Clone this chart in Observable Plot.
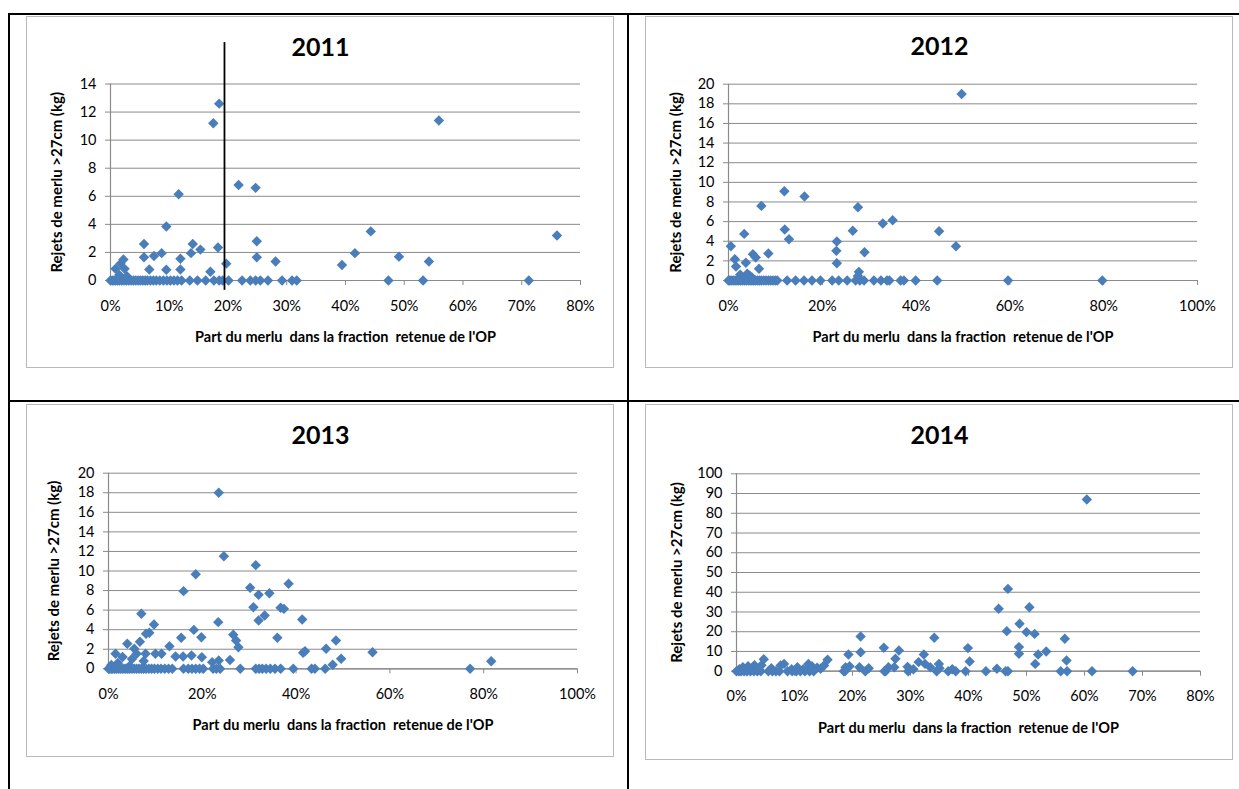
<!DOCTYPE html>
<html><head><meta charset="utf-8">
<script src="https://cdn.jsdelivr.net/npm/d3@7"></script>
<script src="https://cdn.jsdelivr.net/npm/@observablehq/plot@0.6"></script>
<style>
body{margin:0;background:#fff;width:1239px;height:789px;overflow:hidden;position:relative;font-family:Lato,sans-serif}
.line{position:absolute;background:#000}
.frame{position:absolute;border:1.5px solid #b9b9b9;box-sizing:border-box;background:#fff}
.chart{position:absolute}
</style></head><body>
<div class="line" style="left:8px;top:13px;width:1231px;height:2px"></div>
<div class="line" style="left:8px;top:13px;width:2px;height:776px"></div>
<div class="line" style="left:627px;top:13px;width:2px;height:776px"></div>
<div class="line" style="left:8px;top:400px;width:1231px;height:2px"></div>
<script>
// ---------- DATA (x = % share, y = kg) ----------
const xLabel = "Part du merlu  dans la fraction  retenue de l'OP";
const yLabel = "Rejets de merlu >27cm (kg)";

const x2011 = [18.5,17.5,55.9,21.8,24.7,11.6,9.5,44.3,76.0,24.9,5.7,14.0,18.3,15.3,13.7,8.7,41.6,7.4,5.7,24.9,49.1,11.9,2.2,28.1,54.2,1.7,19.7,39.4,0.85,2.4,6.6,9.5,11.9,17.0,1.5,2.8,
  0,0.3,0.6,0.9,1.2,1.5,1.9,2.3,2.7,3.1,3.5,3.9,4.3,4.7,5.1,5.5,5.9,6.3,6.8,7.3,7.8,8.4,9,9.6,10.2,10.8,11.4,12.1,13.5,14.8,16.2,17.6,18.5,19.1,20.1,22.4,23.8,24.7,25.5,26.8,29.2,30.9,31.7,47.3,53.2,71.2];
const y2011 = [12.6,11.2,11.4,6.8,6.6,6.15,3.85,3.5,3.2,2.8,2.6,2.6,2.35,2.2,1.95,1.95,1.95,1.75,1.65,1.65,1.7,1.55,1.5,1.35,1.35,1.2,1.2,1.1,0.83,0.83,0.78,0.76,0.78,0.62,0.4,0.3,
  0,0,0,0,0,0,0,0,0,0,0,0,0,0,0,0,0,0,0,0,0,0,0,0,0,0,0,0,0,0,0,0,0,0,0,0,0,0,0,0,0,0,0,0,0,0];
const vline2011 = {x: 19.4, top: 16.95, bottom: -0.7};

const x2012 = [49.7,11.9,16.2,7.0,27.6,35.0,32.9,44.9,12.0,26.5,3.35,12.9,23.1,0.5,48.5,23.0,29.0,8.5,5.2,5.8,1.35,3.7,23.1,1.6,6.5,4.0,27.8,27.6,2.5,4.5,5.0,
  0,0.3,0.6,1,1.4,1.8,2.2,2.6,3,3.4,3.8,4.2,4.6,5,5.4,5.8,6.2,6.6,7,7.5,8,8.5,9,9.5,10,10.4,12.5,14.3,16.1,17.8,19.6,22.1,23.5,25.3,27.1,28,28.9,31,32.5,33.8,34.3,36.7,37.4,39.9,44.5,59.6,79.7];
const y2012 = [19.0,9.1,8.55,7.6,7.47,6.14,5.8,5.02,5.19,5.06,4.75,4.2,3.97,3.49,3.49,3.02,2.88,2.75,2.68,2.35,2.17,1.8,1.76,1.43,1.19,0.68,0.88,0.45,0.6,0.5,0.3,
  0,0,0,0,0,0,0,0,0,0,0,0,0,0,0,0,0,0,0,0,0,0,0,0,0,0,0,0,0,0,0,0,0,0,0,0,0,0,0,0,0,0,0,0,0,0,0];

const x2013 = [23.5,24.6,31.4,18.6,38.4,30.2,16.0,34.3,32.0,30.9,36.7,37.4,7.0,33.3,41.3,32.0,23.4,9.7,18.2,8.7,8.0,26.6,19.8,15.5,36.0,27.2,48.5,6.7,4.0,13.0,27.7,46.4,5.5,41.9,41.5,56.3,1.5,6.0,7.9,10.0,11.3,17.7,14.3,15.9,19.9,49.6,25.9,23.5,22.1,81.6,47.8,3.0,5.0,7.5,2.0,0.6,4.5,
  0,0.3,0.6,0.9,1.3,1.7,2.1,2.5,2.9,3.3,3.7,4.1,4.5,5,5.5,6,6.5,7,7.5,8,8.6,9.2,9.8,10.5,11.2,12,12.8,13.6,16,17,17.8,18.6,19.4,20.2,22.3,23,23.8,28.1,31.4,32.1,32.8,33.6,34.5,35.5,36.7,39.4,43.3,44,46.2,77.1];
const y2013 = [18.0,11.5,10.6,9.67,8.7,8.28,7.94,7.73,7.57,6.3,6.24,6.13,5.62,5.45,5.04,4.94,4.77,4.53,3.98,3.68,3.58,3.48,3.23,3.17,3.17,2.9,2.9,2.76,2.56,2.31,2.2,2.05,2.05,1.8,1.65,1.7,1.53,1.53,1.53,1.53,1.53,1.36,1.26,1.26,1.19,1.02,0.9,0.85,0.68,0.78,0.41,1.2,1.0,0.8,0.6,0.4,0.3,
  0,0,0,0,0,0,0,0,0,0,0,0,0,0,0,0,0,0,0,0,0,0,0,0,0,0,0,0,0,0,0,0,0,0,0,0,0,0,0,0,0,0,0,0,0,0,0,0,0,0];

const x2014 = [60.4,46.8,45.2,50.5,48.8,46.6,50.0,51.4,56.6,48.7,48.7,53.4,52.0,51.5,56.9,39.9,40.2,44.9,21.4,21.4,19.3,25.4,28.0,27.4,34.1,32.3,31.4,4.7,15.7,15.1,8.2,7.6,12.4,12.4,13.9,29.5,34.9,32.5,33.4,26.2,27.2,22.8,21.2,18.8,19.5,1.1,3.1,4.3,2.0,6.0,9.5,10.5,11.5,13.0,14.5,35.0,0.5,2.5,30.5,37.2,
  0,0.4,0.8,1.3,1.8,2.4,3,3.6,4.2,5.5,6.2,6.8,7.4,8.8,9.6,10.3,11,11.8,12.6,13.3,18.5,18.7,22.2,25.5,25.7,29.6,34.5,36.5,37.8,39.5,43.0,46.4,46.8,55.9,57.0,61.3,68.3];
const y2014 = [87.0,41.7,31.6,32.4,24.0,20.3,19.8,18.9,16.4,12.2,8.8,10.0,8.5,3.7,5.4,11.7,4.9,1.2,17.6,9.6,8.5,11.9,10.5,6.3,16.9,8.5,4.6,6.1,5.8,2.9,3.7,2.9,3.7,2.0,1.8,2.2,3.7,3.7,2.0,2.0,2.0,1.5,2.0,2.0,2.5,2.0,3.0,3.0,2.5,1.5,1.0,2.0,1.0,2.5,1.2,1.5,1.0,1.2,1.0,1.0,
  0,0,0,0,0,0,0,0,0,0,0,0,0,0,0,0,0,0,0,0,0,0,0,0,0,0,0,0,0,0,0,0,0,0,0,0,0];

const xTicks2011 = [0,10,20,30,40,50,60,70,80];
const yTicks2011 = [0,2,4,6,8,10,12,14];
const xTicks2012 = [0,20,40,60,80,100];
const yTicks2012 = [0,2,4,6,8,10,12,14,16,18,20];
const xTicks2013 = [0,20,40,60,80,100];
const yTicks2013 = [0,2,4,6,8,10,12,14,16,18,20];
const xTicks2014 = [0,10,20,30,40,50,60,70,80];
const yTicks2014 = [0,10,20,30,40,50,60,70,80,90,100];

// ---------- LAYOUT ----------
const panels = [
  {title:"2011", xs:x2011, ys:y2011, xt:xTicks2011, yt:yTicks2011, vline:vline2011,
   frame:{l:26,t:16,w:588,h:352}, plot:{x0:110,x1:580,y0:83.5,y1:280}, titleY:47, yLabX:57},
  {title:"2012", xs:x2012, ys:y2012, xt:xTicks2012, yt:yTicks2012,
   frame:{l:645,t:16,w:588,h:352}, plot:{x0:728,x1:1197,y0:83.7,y1:280}, titleY:47, yLabX:676},
  {title:"2013", xs:x2013, ys:y2013, xt:xTicks2013, yt:yTicks2013,
   frame:{l:26,t:404,w:588,h:353}, plot:{x0:108,x1:577,y0:472.7,y1:668.3}, titleY:435, yLabX:54},
  {title:"2014", xs:x2014, ys:y2014, xt:xTicks2014, yt:yTicks2014,
   frame:{l:645,t:404,w:588,h:356}, plot:{x0:736,x1:1200,y0:473.3,y1:670.7}, titleY:435, yLabX:677},
];

const grid = "#8a8a8a";
const blue = "#4A7EBB";

for (const p of panels) {
  const f = p.frame, q = p.plot;
  const fr = document.createElement("div");
  fr.className = "frame";
  Object.assign(fr.style, {left:f.l+"px", top:f.t+"px", width:f.w+"px", height:f.h+"px"});
  document.body.appendChild(fr);

  const data = p.xs.map((x,i)=>({x, y:p.ys[i]}));
  const xDom = [p.xt[0], p.xt[p.xt.length-1]];
  const yDom = [p.yt[0], p.yt[p.yt.length-1]];
  const plotCx = (q.x0+q.x1)/2, frameCx = f.l + f.w/2;
  const marks = [
    Plot.gridY(p.yt, {stroke:grid, strokeOpacity:1, strokeWidth:1}),
    Plot.ruleX([xDom[0]], {stroke:grid, strokeWidth:1.2}),
    Plot.ruleY([0], {stroke:grid, strokeWidth:1.2}),
    Plot.axisY(p.yt, {tickSize:5, tickPadding:9, stroke:grid, label:null, fontSize:14.5}),
    Plot.axisX(p.xt, {tickSize:5, tickPadding:15, stroke:grid, label:null, fontSize:14.5, tickFormat:d=>d+"%"}),
    Plot.dot(data, {x:"x", y:"y", symbol:"diamond2", r:4.7, fill:blue, stroke:"none"}),
    Plot.text([p.title], {frameAnchor:"top", textAnchor:"middle", lineAnchor:"middle", dx:frameCx-plotCx, dy:p.titleY-q.y0, fontSize:25, fontWeight:"bold"}),
    Plot.text([xLabel], {frameAnchor:"bottom", textAnchor:"middle", lineAnchor:"middle", dy:57, fontSize:14.5, fontWeight:"bold"}),
    Plot.text([yLabel], {frameAnchor:"left", textAnchor:"middle", lineAnchor:"middle", dx:p.yLabX-q.x0, rotate:-90, fontSize:15, fontWeight:"bold"}),
  ];
  if (p.vline) marks.push(Plot.ruleX([p.vline.x], {y1:p.vline.top, y2:p.vline.bottom, stroke:"#000", strokeWidth:1.8}));
  const svg = Plot.plot({
    width:f.w, height:f.h,
    marginLeft:q.x0-f.l, marginRight:f.l+f.w-q.x1, marginTop:q.y0-f.t, marginBottom:f.t+f.h-q.y1,
    style:{fontFamily:"Lato, sans-serif", fontSize:"14.5px", color:"#000", background:"transparent", overflow:"visible"},
    x:{domain:xDom}, y:{domain:yDom},
    marks
  });
  svg.classList.add("chart");
  Object.assign(svg.style, {left:f.l+"px", top:f.t+"px", position:"absolute"});
  document.body.appendChild(svg);
}
</script>
</body></html>
